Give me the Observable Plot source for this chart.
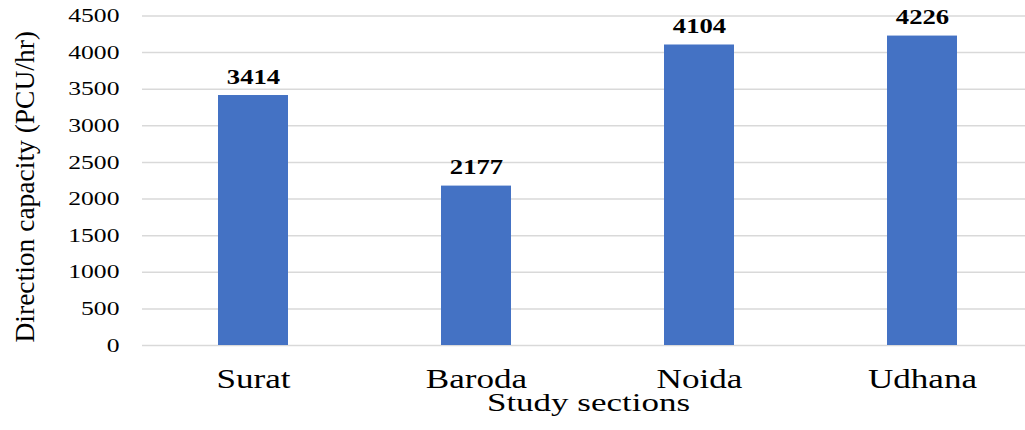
<!DOCTYPE html>
<html>
<head>
<meta charset="utf-8">
<script src="https://cdn.jsdelivr.net/npm/d3@7"></script>
<script src="https://cdn.jsdelivr.net/npm/@observablehq/plot@0.6"></script>
<style>
  html, body { margin: 0; padding: 0; background: #fff; overflow: hidden; }
</style>
</head>
<body>
<div id="chart"></div>
<script>
// Directional capacity of each study section
const sections = ["Surat", "Baroda", "Noida", "Udhana"];
const capacity = [3414, 2177, 4104, 4226];
const yTicks = [0, 500, 1000, 1500, 2000, 2500, 3000, 3500, 4000, 4500];
const yTitle = "Direction capacity (PCU/hr)";
const xTitle = "Study sections";

const rows = sections.map((section, i) => ({section, capacity: capacity[i]}));

const chart = Plot.plot({
  width: 1034,
  height: 430,
  marginLeft: 142,
  marginRight: 0,
  marginTop: 15.5,
  marginBottom: 85,
  style: {
    fontFamily: "'Liberation Serif', 'Times New Roman', serif",
    color: "#000",
    background: "#fff",
    overflow: "visible",
    maxWidth: "none"
  },
  x: {domain: sections, paddingInner: 0.686, paddingOuter: 0.343, label: null},
  y: {domain: [0, 4500], label: null},
  marks: [
    Plot.gridY(yTicks, {stroke: "#d9d9d9", strokeOpacity: 1, strokeWidth: 1.5}),
    Plot.barY(rows, {x: "section", y: "capacity", fill: "#4472C4"}),
    Plot.axisY(yTicks, {tickSize: 0, tickPadding: 23, tickFormat: d3.format("d"), fontSize: 19, label: null}),
    Plot.axisX({tickSize: 0, tickPadding: 23, fontSize: 27, label: null}),
    Plot.text(rows, {
      x: "section", y: "capacity", text: (d) => String(d.capacity),
      fontWeight: "bold", fontSize: 21, lineAnchor: "bottom", dy: -12, fill: "#000"
    }),
    Plot.text([xTitle], {text: (d) => d, frameAnchor: "bottom", lineAnchor: "bottom", dy: 65, fontSize: 25, fill: "#000"}),
    Plot.text([yTitle], {
      text: (d) => d, frameAnchor: "left", textAnchor: "middle", rotate: -90,
      dx: -117, dy: 6, fontSize: 27.5, fill: "#000"
    })
  ]
});

// Widen glyphs horizontally around each label's anchor point
function widen(nodes, k) {
  nodes.forEach((t) => {
    const x = +(t.getAttribute("x") || 0);
    const y = +(t.getAttribute("y") || 0);
    let tr = t.getAttribute("transform") || "";
    if (x || y) {
      tr = `${tr} translate(${x},${y})`;
      t.removeAttribute("x");
      t.removeAttribute("y");
    }
    t.setAttribute("transform", `${tr} scale(${k},1)`);
  });
}
widen(chart.querySelectorAll('g[aria-label="y-axis tick label"] text'), 1.35);
widen(chart.querySelectorAll('g[aria-label="x-axis tick label"] text'), 1.3);
chart.querySelectorAll('g[aria-label="text"] text').forEach((t) => {
  const s = t.textContent;
  if (s === yTitle) return;
  widen([t], s === xTitle ? 1.4 : 1.27);
});

document.getElementById("chart").appendChild(chart);
</script>
</body>
</html>
